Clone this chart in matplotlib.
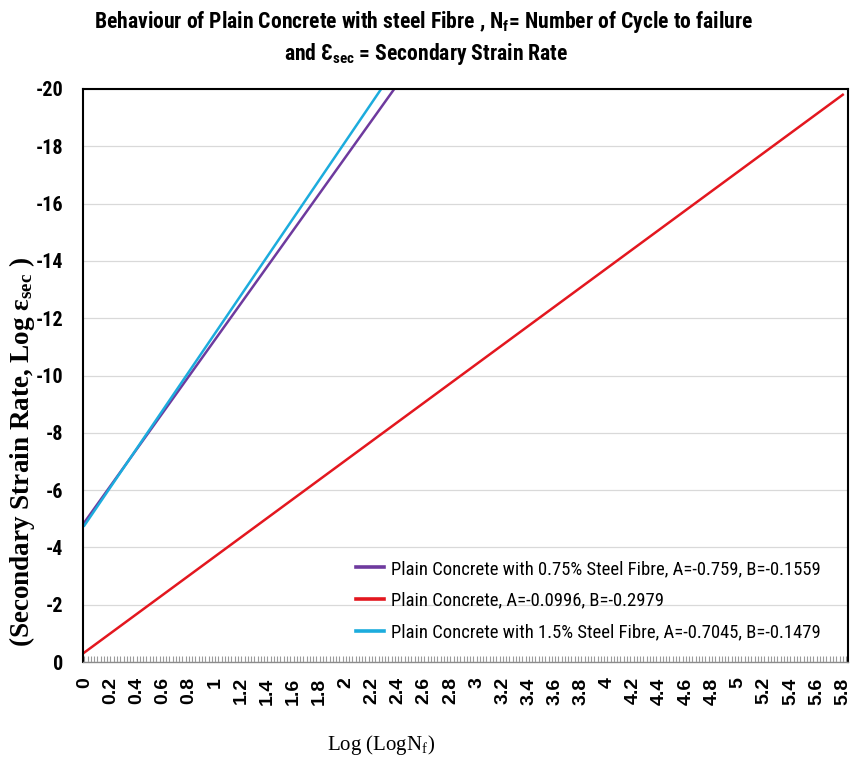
import numpy as np
import matplotlib
matplotlib.use("Agg")
from matplotlib import pyplot as plt
from matplotlib import font_manager
from matplotlib.ticker import MultipleLocator

# pick a condensed sans if one is around, else squeeze DejaVu
have = set(f.name for f in font_manager.fontManager.ttflist)
narrow_name = 'DejaVu Sans'
for cand in ['Liberation Sans Narrow', 'Roboto Condensed', 'Open Sans Condensed',
             'Noto Sans Condensed', 'DejaVu Sans Condensed']:
    if cand in have:
        narrow_name = cand
        break
narrow = [narrow_name, 'DejaVu Sans']
serif = ['Liberation Serif', 'DejaVu Serif']

plt.rcParams['axes.unicode_minus'] = False
plt.rcParams['mathtext.fontset'] = 'custom'
plt.rcParams['mathtext.rm'] = narrow_name + ':bold'
plt.rcParams['mathtext.it'] = narrow_name + ':bold'
plt.rcParams['mathtext.bf'] = 'Liberation Serif:bold'
plt.rcParams['mathtext.sf'] = 'Liberation Serif'

# end points of each fitted line: x = Log(LogNf), y = Log(eps_sec)
x_plain = [0.0, 5.8]
y_plain = [-0.33, -19.8]
x_075 = [0.0, 2.37]
y_075 = [-4.87, -20.0]
x_15 = [0.0, 2.27]
y_15 = [-4.76, -20.0]

lbl_075 = "Plain Concrete with 0.75% Steel Fibre, A=-0.759, B=-0.1559"
lbl_plain = "Plain Concrete, A=-0.0996, B=-0.2979"
lbl_15 = "Plain Concrete with 1.5% Steel Fibre, A=-0.7045, B=-0.1479"

x_ticks = np.round(np.arange(0, 5.81, 0.2), 1)
x_ticklabels = ["%g" % v for v in x_ticks]
y_ticks = list(range(0, -21, -2))

fig = plt.figure(figsize=(8.52, 7.7), dpi=100)
ax = fig.add_axes([83/852, 1-662/770, (848-83)/852, (662-89)/770])

ax.plot(x_075, y_075, color='#6E3A9E', lw=1.8, label=lbl_075)
ax.plot(x_plain, y_plain, color='#E3171F', lw=1.8, label=lbl_plain)
ax.plot(x_15, y_15, color='#1CACDD', lw=1.8, label=lbl_15)

ax.set_xlim(-0.01, 5.84)
ax.set_ylim(0, -20)
ax.set_yticks(y_ticks)
ax.set_yticklabels([str(v) for v in y_ticks], family=narrow, fontweight='bold',
                   fontstretch='condensed', fontsize=14.5)
ax.set_xticks(x_ticks)
ax.set_xticklabels(x_ticklabels, rotation=90, family=['Liberation Sans', 'DejaVu Sans'],
                   fontweight='bold', fontsize=14, va='top', ha='center')
ax.xaxis.set_minor_locator(MultipleLocator(0.025))
ax.tick_params(axis='x', which='both', direction='in', length=4, color='#9a9a9a', width=0.8, pad=11)
ax.tick_params(axis='y', length=0, pad=14)

ax.grid(axis='y', color='#d9d9d9', lw=0.9)
ax.set_axisbelow(True)
for s in ['left', 'top', 'right']:
    ax.spines[s].set_color('black')
    ax.spines[s].set_linewidth(1.5)
ax.spines['bottom'].set_color('#8c8c8c')
ax.spines['bottom'].set_linewidth(1.0)

leg = ax.legend(loc='lower right', bbox_to_anchor=(0.986, 0.006), frameon=False,
                prop={'family': narrow, 'size': 13.4, 'stretch': 'condensed'},
                handlelength=1.5, handletextpad=0.38, labelspacing=0.75)
for h in leg.get_lines():
    h.set_linewidth(2.6)

fig.text(0.497, 1-22/770, r"Behaviour of Plain Concrete with steel Fibre , N$_f$= Number of Cycle to failure",
         family=narrow, fontweight='bold', fontstretch='condensed', fontsize=15.6,
         ha='center', va='center')
fig.text(0.5, 1-54/770, r"and Ɛ$_{sec}$ = Secondary Strain Rate",
         family=narrow, fontweight='bold', fontstretch='condensed', fontsize=15.6,
         ha='center', va='center')
fig.text(22/852, 1-452/770, r"(Secondary Strain Rate, Log $\mathbf{\varepsilon_{sec}}$ )",
         family=serif, fontweight='bold', fontsize=19.5, rotation=90, ha='center', va='center')
fig.text(381/852, 1-745/770, r"Log (LogN$_\mathsf{f}$)", family=serif, fontsize=15,
         ha='center', va='center')

fig.savefig("out.png", dpi=100)
